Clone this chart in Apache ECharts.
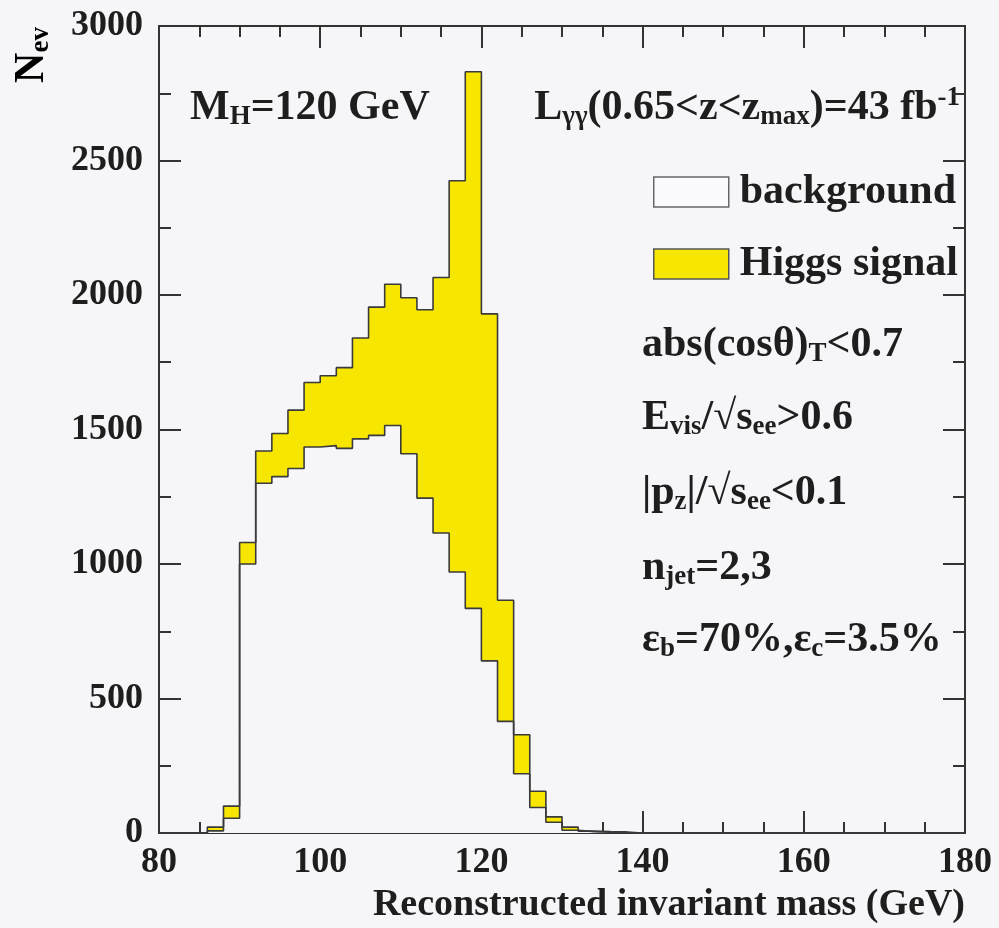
<!DOCTYPE html>
<html>
<head>
<meta charset="utf-8">
<script src="https://cdn.jsdelivr.net/npm/echarts@6/dist/echarts.min.js"></script>
<style>
html,body{margin:0;padding:0;background:#f6f6f9;}
#chart{width:999px;height:928px;}
</style>
</head>
<body>
<div id="chart"></div>
<script>
// Bin low edges (GeV), 2 GeV wide bins
const binLowEdges = [80,82,84,86,88,90,92,94,96,98,100,102,104,106,108,110,112,114,116,118,120,122,124,126,128,130,132,134,136,138,140,142,144,146,148,150,152,154,156,158,160,162,164,166,168,170,172,174,176,178];
const binUpperEnd = 180;
// Background events per bin
const backgroundCounts = [0,0,0,8,55,1000,1300,1325,1355,1435,1440,1430,1465,1478,1515,1410,1245,1115,970,835,640,415,220,95,40,10,5,3,2,0,0,0,0,0,0,0,0,0,0,0,0,0,0,0,0,0,0,0,0,0];
// Background + Higgs signal (stacked total) per bin
const totalCounts = [0,0,0,22,100,1080,1420,1485,1572,1675,1700,1730,1840,1955,2040,1990,1945,2065,2425,2830,1930,865,365,155,60,22,7,5,4,0,0,0,0,0,0,0,0,0,0,0,0,0,0,0,0,0,0,0,0,0];
const seriesNames = ['background', 'Higgs signal'];

function stepData(values) {
  const d = binLowEdges.map((e, i) => [e, values[i]]);
  d.push([binUpperEnd, values[values.length - 1]]);
  return d;
}

const FONT = 'Liberation Serif';
const INK = '#1e1e1e';
const AXC = '#333';
const BG = '#f6f6f9';
const YEL = '#f7e600';

const rich = {
  n: {fontSize: 42, lineHeight: 46, fontFamily: FONT, fontWeight: 'bold', color: INK},
  t: {fontSize: 38, lineHeight: 42, fontFamily: FONT, fontWeight: 'bold', color: INK},
  sub: {fontSize: 27, lineHeight: 12, verticalAlign: 'bottom', fontFamily: FONT, fontWeight: 'bold', color: INK},
  sup: {fontSize: 27, lineHeight: 10, verticalAlign: 'top', fontFamily: FONT, fontWeight: 'bold', color: INK}
};

function txt(x, y, text, align) {
  return {
    type: 'text', x: x, y: y, silent: true,
    style: {text: text, rich: rich, align: align || 'left', verticalAlign: 'middle',
      fontSize: 42, fontFamily: FONT, fontWeight: 'bold', fill: INK}
  };
}

const tickStyle = {color: AXC, width: 2};
function xAx(pos, interval, tickLen, labels) {
  return {
    type: 'value', min: 80, max: 180, interval: interval, position: pos,
    axisLine: {show: true, onZero: false, lineStyle: {color: AXC, width: 2}},
    axisTick: {show: true, inside: true, length: tickLen, lineStyle: tickStyle},
    splitLine: {show: false},
    axisLabel: {show: labels, fontFamily: FONT, fontWeight: 'bold', fontSize: 36, color: INK, margin: 12}
  };
}
function yAx(pos, interval, tickLen, labels) {
  return {
    type: 'value', min: 0, max: 3000, interval: interval, position: pos,
    axisLine: {show: true, onZero: false, lineStyle: {color: AXC, width: 2}},
    axisTick: {show: true, inside: true, length: tickLen, lineStyle: tickStyle},
    splitLine: {show: false},
    axisLabel: {show: labels, fontFamily: FONT, fontWeight: 'bold', fontSize: 36, color: INK, margin: 16,
      formatter: v => String(v)}
  };
}

const chart = echarts.init(document.getElementById('chart'), null, {renderer: 'canvas'});
chart.setOption({
  backgroundColor: BG,
  animation: false,
  grid: {left: 159, top: 26, width: 806, height: 807, containLabel: false},
  xAxis: [xAx('bottom', 20, 22, true), xAx('bottom', 5, 11, false), xAx('top', 20, 22, false), xAx('top', 5, 11, false)],
  yAxis: [yAx('left', 500, 22, true), yAx('left', 250, 12, false), yAx('right', 500, 22, false), yAx('right', 250, 12, false)],
  legend: {
    orient: 'vertical', left: 648, top: 166, itemWidth: 75, itemHeight: 30, itemGap: 30,
    selectedMode: false,
    textStyle: {fontFamily: FONT, fontWeight: 'bold', fontSize: 42, color: INK, padding: [0, 0, 0, 6]},
    data: [
      {name: seriesNames[0], icon: 'rect', itemStyle: {color: '#fbfbfd', borderColor: '#666', borderWidth: 1.5}},
      {name: seriesNames[1], icon: 'rect', itemStyle: {color: YEL, borderColor: '#555', borderWidth: 1.5}}
    ]
  },
  series: [
    {
      name: seriesNames[1], type: 'line', step: 'end', symbol: 'none',
      xAxisIndex: 0, yAxisIndex: 0,
      data: stepData(totalCounts),
      lineStyle: {color: '#3a3a3a', width: 1.6},
      itemStyle: {color: YEL},
      areaStyle: {color: YEL, opacity: 1}
    },
    {
      name: seriesNames[0], type: 'line', step: 'end', symbol: 'none',
      xAxisIndex: 0, yAxisIndex: 0,
      data: stepData(backgroundCounts),
      lineStyle: {color: '#3a3a3a', width: 1.6},
      itemStyle: {color: '#fbfbfd'},
      areaStyle: {color: BG, opacity: 1}
    }
  ],
  graphic: [
    txt(190, 108, '{n|M}{sub|H}{n|=120 GeV}'),
    txt(960, 108, '{n|L}{sub|γγ}{n|(0.65<z<z}{sub|max}{n|)=43 fb}{sup|-1}', 'right'),
    txt(642, 345, '{n|abs(cosθ)}{sub|T}{n|<0.7}'),
    txt(642, 418, '{n|E}{sub|vis}{n|/√s}{sub|ee}{n|>0.6}'),
    txt(642, 493, '{n||p}{sub|z}{n||/√s}{sub|ee}{n|<0.1}'),
    txt(642, 568, '{n|n}{sub|jet}{n|=2,3}'),
    txt(642, 640, '{n|ε}{sub|b}{n|=70%,ε}{sub|c}{n|=3.5%}'),
    txt(965, 905, '{t|Reconstructed invariant mass (GeV)}', 'right'),
    {type: 'text', x: 32, y: 55, rotation: Math.PI / 2, silent: true,
     style: {text: '{n|N}{sub|ev}', rich: rich, align: 'center', verticalAlign: 'middle'}}
  ]
});
</script>
</body>
</html>
